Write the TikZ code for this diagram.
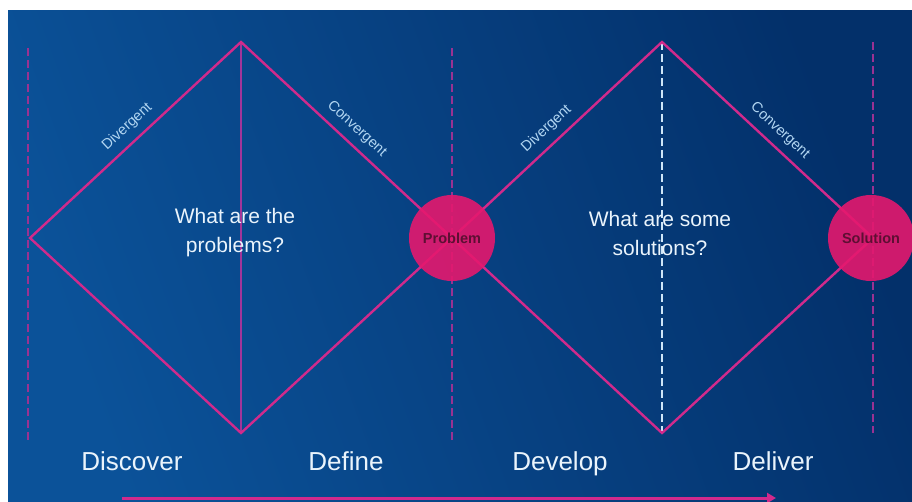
\documentclass[tikz,border=0pt]{standalone}
\usepackage{fontspec}
\setmainfont{Liberation Sans}
\usetikzlibrary{arrows.meta}
\definecolor{bgdark}{HTML}{03306A}
\definecolor{bglight}{HTML}{0B5299}
\definecolor{mag}{HTML}{D12A8C}
\definecolor{magdash}{HTML}{9A3292}
\definecolor{magsolid}{HTML}{A2359A}
\definecolor{hubpink}{HTML}{E5186E}
\definecolor{txt}{HTML}{EAF4FC}
\definecolor{lbl}{HTML}{B2D6F2}
\definecolor{ctxt}{HTML}{5E0F33}
\definecolor{guidewhite}{HTML}{CFE6F8}
\begin{document}
\begin{tikzpicture}[x=1pt,y=-1pt,
  edge/.style={draw=mag,line width=2.4pt,line join=miter},
  guide/.style={draw=magdash,line width=1.2pt,dash pattern=on 8pt off 4pt},
  guidesolid/.style={draw=magsolid,line width=1.6pt},
  guidew/.style={draw=guidewhite,line width=1.4pt,dash pattern=on 8pt off 4pt},
  slabel/.style={font=\fontsize{14.5}{14.5}\selectfont,text=lbl,sloped,above=4pt,pos=0.5},
  phase/.style={font=\fontsize{26}{26}\selectfont,text=txt,anchor=base},
  question/.style={font=\fontsize{21}{29}\selectfont,text=txt,align=center},
  hub/.style={circle,fill=hubpink,minimum size=86pt,inner sep=0pt,font=\bfseries\fontsize{14.5}{14.5}\selectfont,text=ctxt,fill opacity=0.9,text opacity=1}
]
\useasboundingbox (0,0) rectangle (912,502);
\fill[white] (0,0) rectangle (912,502);
\shade[top color=bgdark,bottom color=bglight,shading angle=-70] (8,11) rectangle (912,502);
% guide lines
\coordinate (g1t) at (28,48);  \coordinate (g1b) at (28,440);
\coordinate (g2t) at (241,42); \coordinate (g2b) at (241,433);
\coordinate (g3t) at (452,48); \coordinate (g3b) at (452,440);
\coordinate (g4t) at (662,42); \coordinate (g4b) at (662,433);
\coordinate (g5t) at (873,42); \coordinate (g5b) at (873,433);
\draw[guide] (g1t) -- (g1b);
\draw[guidesolid] (g2t) -- (g2b);
\draw[guide] (g3t) -- (g3b);
\draw[guidew] (g4t) -- (g4b);
\draw[guide] (g5t) -- (g5b);
% diamonds
\coordinate (L) at (30,238);
\coordinate (T1) at (241,42);
\coordinate (B1) at (241,433);
\coordinate (M) at (452,238);
\coordinate (T2) at (662,42);
\coordinate (B2) at (662,433);
\coordinate (R) at (873,238);
\draw[edge] (L) -- node[slabel,pos=0.51]{Divergent} (T1) -- node[slabel,pos=0.5]{Convergent} (M) -- (B1) -- cycle;
\draw[edge] (M) -- node[slabel,pos=0.5]{Divergent} (T2) -- node[slabel,pos=0.51]{Convergent} (R) -- (B2) -- cycle;
% hubs
\node[hub] (prob) at (M) {Problem};
\node[hub] (sol) at (871,238) {Solution};
% questions
\node[question] (q1) at (235,233) {What are the\\problems?};
\node[question] (q2) at (660,233) {What are some\\solutions?};
% phases
\node[phase] (discover) at (132,470) {Discover};
\node[phase] (define) at (346,470) {Define};
\node[phase] (develop) at (560,470) {Develop};
\node[phase] (deliver) at (773,470) {Deliver};
% arrow
\coordinate (a0) at (122,498);
\coordinate (a1) at (776,498);
\draw[mag,line width=3pt,-{Triangle[length=9pt,width=10pt]}] (a0) -- (a1);
\end{tikzpicture}
\end{document}
